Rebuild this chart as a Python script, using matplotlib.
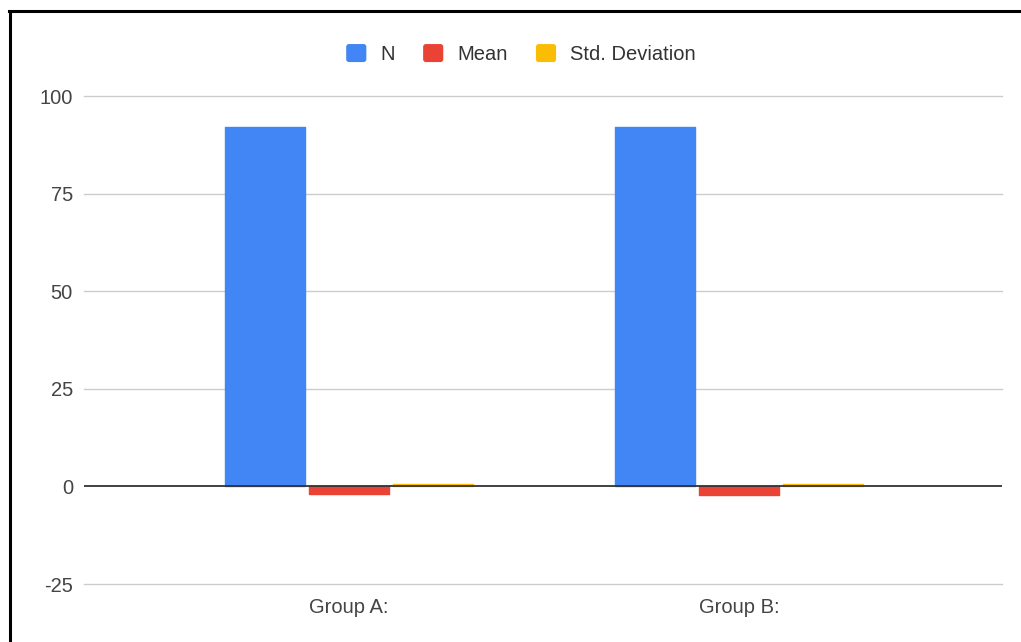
import matplotlib
matplotlib.use("Agg")
import matplotlib.pyplot as plt
import numpy as np
from matplotlib.patches import Patch, FancyBboxPatch
from matplotlib.lines import Line2D
from matplotlib.legend_handler import HandlerPatch

categories = ["Group A:", "Group B:"]
series_names = ["N", "Mean", "Std. Deviation"]
n_values = [92, 92]
mean_values = [-1.9, -2.1]
std_values = [0.7, 0.7]
y_ticks = [-25, 0, 25, 50, 75, 100]

colors = ["#4285F4", "#EA4335", "#FBBC04"]
text_color = "#444444"

plt.rcParams["font.family"] = ["Liberation Sans", "DejaVu Sans"]
plt.rcParams["axes.unicode_minus"] = False

W, H = 1021, 642
fig = plt.figure(figsize=(W / 100, H / 100), dpi=100)
fig.patch.set_facecolor("white")

ax = fig.add_axes([84 / W, 58 / H, (1002 - 84) / W, (584 - 96) / H])

x = np.arange(len(categories))
bar_w = 0.205
offsets = [-0.215, 0.0, 0.215]
for vals, off, col in zip([n_values, mean_values, std_values], offsets, colors):
    ax.bar(x + off, vals, width=bar_w, color=col, edgecolor=col,
           linewidth=1.0, joinstyle="round", zorder=3)

ax.set_xlim((84 - 349) / 390, (1002 - 349) / 390)
ax.set_ylim(-25, 100)
ax.set_yticks(y_ticks)
ax.set_xticks(x)
ax.set_xticklabels(categories)

for t in y_ticks:
    if t != 0:
        ax.axhline(t, color="#cccccc", linewidth=1.0, zorder=0, clip_on=False)
ax.axhline(0, color="#333333", linewidth=1.3, zorder=4)
for s in ax.spines.values():
    s.set_visible(False)
ax.tick_params(axis="both", length=0, labelsize=14.5, colors=text_color)
ax.tick_params(axis="y", pad=8)
ax.tick_params(axis="x", pad=10)


class RoundSquare(HandlerPatch):
    def create_artists(self, legend, orig_handle, xdescent, ydescent,
                       width, height, fontsize, trans):
        p = FancyBboxPatch((-xdescent + 1.5, -ydescent + 1.5), width - 3, height - 3,
                           boxstyle="round,pad=1.5,rounding_size=2",
                           facecolor=orig_handle.get_facecolor(),
                           edgecolor="none", transform=trans)
        return [p]


handles = [Patch(facecolor=c) for c in colors]
leg = fig.legend(handles, series_names, loc="center", bbox_to_anchor=(521 / W, 1 - 54 / H),
                 ncol=3, frameon=False, fontsize=14.5, handlelength=1.0, handleheight=1.0,
                 handletextpad=0.7, columnspacing=1.4, labelcolor="#333333",
                 handler_map={Patch: RoundSquare()})

# frame around the chart (top and left edges)
fig.add_artist(Line2D([9.5 / W, 9.5 / W], [0, 1 - 11 / H], transform=fig.transFigure,
                      color="black", linewidth=2.2))
fig.add_artist(Line2D([8.5 / W, 1], [1 - 11 / H, 1 - 11 / H], transform=fig.transFigure,
                      color="black", linewidth=2.2))

fig.savefig("out.png", dpi=100, facecolor="white")
